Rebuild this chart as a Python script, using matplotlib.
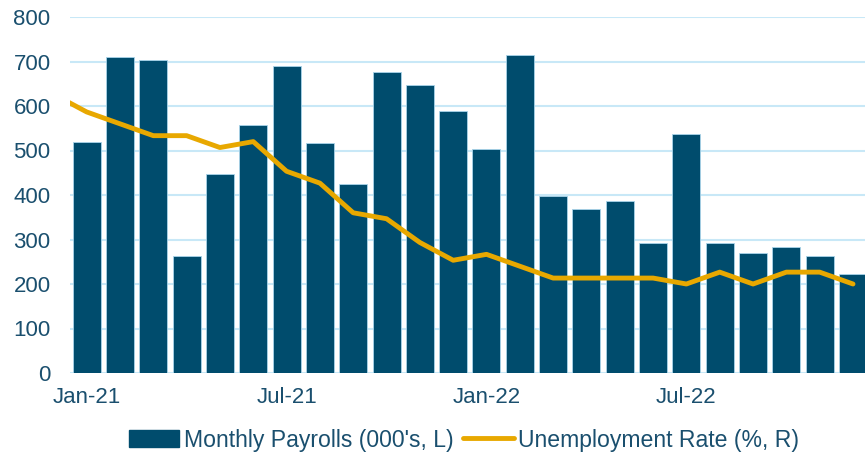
import matplotlib
matplotlib.use("Agg")
import matplotlib.pyplot as plt
from matplotlib.patches import Patch
from matplotlib.lines import Line2D

months = ["Jan-21", "Feb-21", "Mar-21", "Apr-21", "May-21", "Jun-21", "Jul-21", "Aug-21",
          "Sep-21", "Oct-21", "Nov-21", "Dec-21", "Jan-22", "Feb-22", "Mar-22", "Apr-22",
          "May-22", "Jun-22", "Jul-22", "Aug-22", "Sep-22", "Oct-22", "Nov-22", "Dec-22"]
payrolls = [520, 710, 704, 263, 447, 557, 689, 517, 424, 677, 647, 588,
            504, 714, 398, 368, 386, 293, 537, 292, 269, 284, 263, 223]
# unemployment rate, starting with Dec-20 (drawn one slot before Jan-21)
unemp_prev = 6.7
unemp = [6.4, 6.2, 6.0, 6.0, 5.8, 5.9, 5.4, 5.2, 4.7, 4.6, 4.2, 3.9,
         4.0, 3.8, 3.6, 3.6, 3.6, 3.6, 3.5, 3.7, 3.5, 3.7, 3.7, 3.5]
tick_labels = ["Jan-21", "Jul-21", "Jan-22", "Jul-22"]

plt.rcParams['font.family'] = ['Liberation Sans', 'DejaVu Sans']
text_col = "#1a4f6e"
bar_col = "#004c6d"
line_col = "#e8a800"
grid_col = "#c8e8f7"

fig = plt.figure(figsize=(8.65, 4.57), dpi=100)
ax = fig.add_axes([70/865, 84/457, 1 - 70/865, (373-17)/457])
x = list(range(len(months)))
ax.bar(x, payrolls, width=0.84, color=bar_col, edgecolor="#a9d4ea", linewidth=0.6, zorder=3)
ax.set_ylim(0, 800)
ax.set_xlim(-0.5, 23.36)
ax.set_yticks(range(0, 801, 100))
ax.yaxis.grid(True, color=grid_col, linewidth=1.5, zorder=0)
ax.set_axisbelow(True)
for s in ax.spines.values():
    s.set_visible(False)
ax.tick_params(axis='both', length=0, labelsize=16, labelcolor=text_col)
ax.tick_params(axis='y', pad=14)
ax.tick_params(axis='x', pad=10)
ax.set_xticks([months.index(t) for t in tick_labels])
ax.set_xticklabels(tick_labels)

ax2 = ax.twinx()
ax2.set_ylim(2, 8)
ax2.plot([-1] + x, [unemp_prev] + unemp, color=line_col, linewidth=3.5,
         solid_joinstyle='round', solid_capstyle='round', zorder=5)
ax2.set_xlim(-0.5, 23.36)
ax2.axis('off')

handles = [Patch(facecolor=bar_col, edgecolor=bar_col),
           Line2D([0], [0], color=line_col, linewidth=3.5, solid_capstyle='round')]
fig.legend(handles, ["Monthly Payrolls (000's, L)", "Unemployment Rate (%, R)"],
           loc='center', bbox_to_anchor=(464/865, 1 - 440/457), ncol=2, frameon=False,
           fontsize=16.6, labelcolor=text_col, handlelength=2.2, handletextpad=0.2,
           columnspacing=0.4, handleheight=0.75)

fig.savefig("out.png", dpi=100)
